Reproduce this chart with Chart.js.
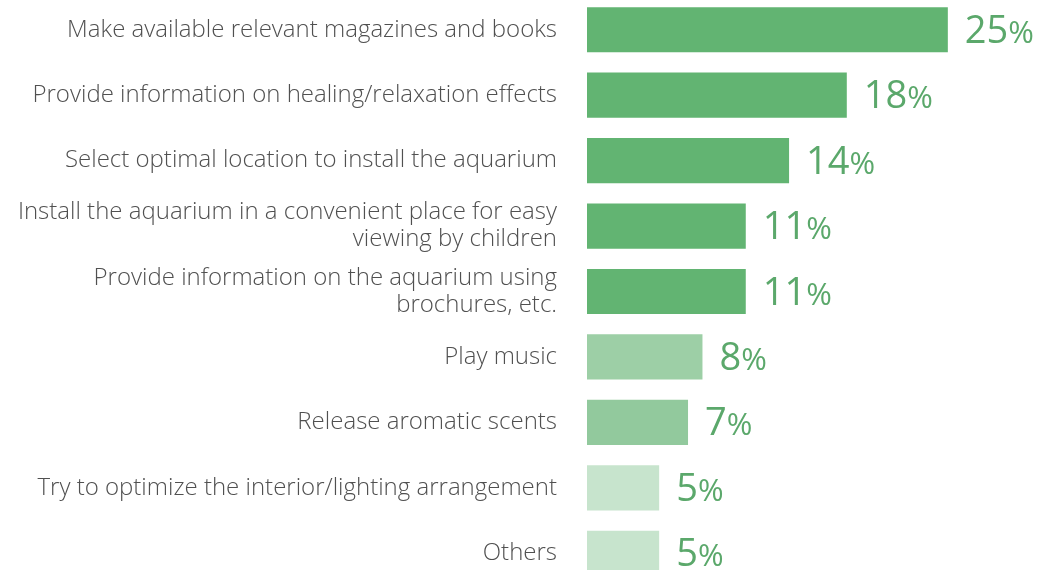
<!DOCTYPE html>
<html>
<head>
<meta charset="utf-8">
<script src="https://cdn.jsdelivr.net/npm/chart.js@4/dist/chart.umd.min.js"></script>
<style>
  html, body { margin: 0; padding: 0; background: #fff; overflow: hidden; }
  .wrap { position: absolute; left: 0; top: -3px; width: 1062px; height: 589px; }
</style>
</head>
<body>
<div class="wrap"><canvas id="myChart"></canvas></div>
<script>
var labels = [
  'Make available relevant magazines and books',
  'Provide information on healing/relaxation effects',
  'Select optimal location to install the aquarium',
  ['Install the aquarium in a convenient place for easy', 'viewing by children'],
  ['Provide information on the aquarium using', 'brochures, etc.'],
  'Play music',
  'Release aromatic scents',
  'Try to optimize the interior/lighting arrangement',
  'Others'
];
var values = [25, 18, 14, 11, 11, 8, 7, 5, 5];
var barColors = ['#62b472', '#62b472', '#62b472', '#62b472', '#62b472',
                 '#9dcfa6', '#92c99d', '#c7e4cd', '#c7e4cd'];
var valueColor = '#5ba86b';

// big number + smaller % at the end of each bar
var valueLabels = {
  id: 'valueLabels',
  afterDatasetsDraw: function(chart) {
    var ctx = chart.ctx;
    var meta = chart.getDatasetMeta(0);
    ctx.save();
    ctx.fillStyle = valueColor;
    ctx.textBaseline = 'alphabetic';
    ctx.textAlign = 'left';
    meta.data.forEach(function(bar, i) {
      var x = bar.x + 17;
      var y = bar.y + 13;
      ctx.font = '400 38px "Open Sans", sans-serif';
      var num = String(values[i]);
      ctx.fillText(num, x, y);
      var w = ctx.measureText(num).width;
      ctx.font = '400 31px "Open Sans", sans-serif';
      ctx.fillText('%', x + w, y);
    });
    ctx.restore();
  }
};

var ctx = document.getElementById('myChart');
var myChart = new Chart(ctx, {
  type: 'bar',
  data: {
    labels: labels,
    datasets: [{
      data: values,
      backgroundColor: barColors,
      borderWidth: 0,
      categoryPercentage: 0.69,
      barPercentage: 1
    }]
  },
  options: {
    indexAxis: 'y',
    responsive: true,
    maintainAspectRatio: false,
    animation: false,
    layout: { padding: { left: 0, right: 42, top: 0, bottom: 0 } },
    plugins: {
      legend: { display: false },
      tooltip: { enabled: false }
    },
    scales: {
      x: {
        min: 0,
        max: 30,
        display: false
      },
      y: {
        grid: { display: false, drawTicks: false },
        border: { display: false },
        afterFit: function(scale) {
          scale.width = 587;
          scale.paddingTop = 0;
          scale.paddingBottom = 0;
        },
        ticks: {
          padding: 30,
          color: '#505050',
          font: { family: '"Open Sans", sans-serif', size: 24, weight: '300', lineHeight: 1.12 }
        }
      }
    }
  },
  plugins: [valueLabels]
});
</script>
</body>
</html>
